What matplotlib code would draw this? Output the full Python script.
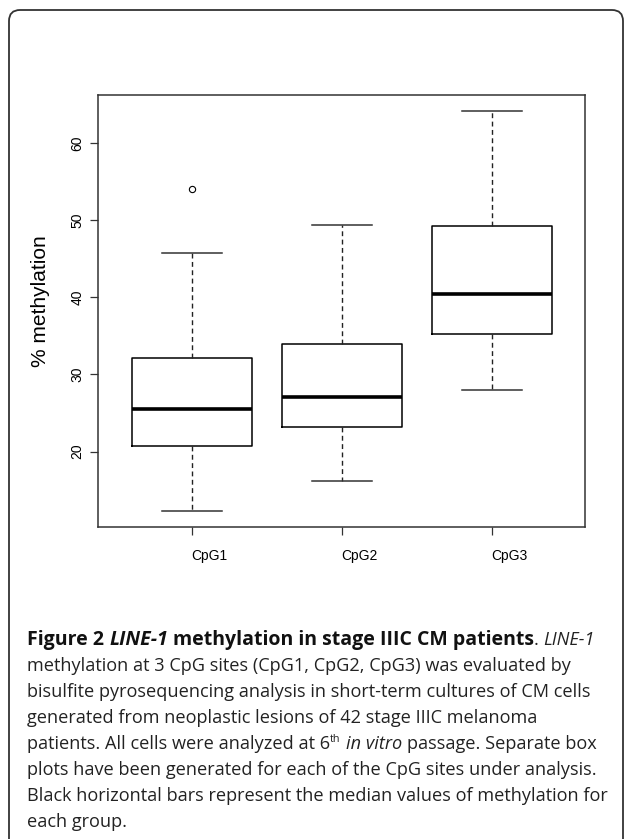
import matplotlib
matplotlib.use('Agg')
import matplotlib.pyplot as plt
from matplotlib.patches import FancyBboxPatch
from matplotlib.transforms import IdentityTransform

# box plot values (% methylation)
sites = ['CpG1', 'CpG2', 'CpG3']
whisker_low = [12.3, 16.2, 28.0]
q1 = [20.7, 23.25, 35.2]
medians = [25.5, 27.1, 40.4]
q3 = [32.2, 33.9, 49.3]
whisker_high = [45.8, 49.4, 64.2]
outliers = [[54.0], [], []]
yticks = [20, 30, 40, 50, 60]

W, H = 627, 839
fig = plt.figure(figsize=(W / 100, H / 100), dpi=100)

# outer rounded frame (pixel coords)
frame = FancyBboxPatch((9, -30), 614, H - 10 + 30,
                       boxstyle='round,pad=0,rounding_size=11',
                       transform=IdentityTransform(), fill=False,
                       lw=1.3, ec='#333333')
fig.patches.append(frame)

ax = fig.add_axes([98 / W, 1 - 527 / H, (584.7 - 98) / W, (527 - 94.7) / H])

stats = []
for i in range(len(sites)):
    stats.append(dict(label=sites[i], whislo=whisker_low[i], q1=q1[i],
                      med=medians[i], q3=q3[i], whishi=whisker_high[i],
                      fliers=outliers[i]))

ax.bxp(stats, positions=[1, 2, 3], widths=0.8, capwidths=0.4, showfliers=True,
       boxprops=dict(color='black', linewidth=1.1),
       medianprops=dict(color='black', linewidth=2.6, solid_capstyle='butt'),
       whiskerprops=dict(color='#222222', linewidth=1.0, linestyle=(0, (3.5, 2.5))),
       capprops=dict(color='#333333', linewidth=1.1),
       flierprops=dict(marker='o', markerfacecolor='none', markeredgecolor='black',
                       markersize=4.5, markeredgewidth=0.8))

lo = min(whisker_low)
hi = max(whisker_high)
pad = 0.04 * (hi - lo)
ax.set_ylim(lo - pad, hi + pad)
ax.set_xlim(0.375, 3.62)

ax.set_yticks(yticks)
ax.set_yticklabels([str(v) for v in yticks], rotation=90, va='center',
                   fontsize=10, family='Liberation Sans')
ax.set_xticks([1, 2, 3])
ax.set_xticklabels(sites, ha='left', fontsize=10, family='Liberation Sans')
ax.tick_params(axis='both', length=5.8, width=0.9, color='#333333')
ax.tick_params(axis='x', pad=10)
ax.tick_params(axis='y', pad=4)
for s in ax.spines.values():
    s.set_color('#333333')
    s.set_linewidth(1.1)

fig.text(40 / W, 1 - 301 / H, '% methylation', rotation=90, ha='center', va='center',
         fontsize=15, family='Liberation Sans')

# caption
r = fig.canvas.get_renderer()
cap_size = 13.1
title_size = 14.0
styles = {
    'r': dict(family='Open Sans', fontsize=cap_size, color='#222222'),
    'b': dict(family='Open Sans', fontsize=title_size, weight='bold', color='#111111'),
    'bi': dict(family='Open Sans', fontsize=title_size, weight='bold', style='italic', color='#111111'),
    'i': dict(family='Open Sans', fontsize=cap_size, style='italic', color='#222222'),
    'sup': dict(family='Open Sans', fontsize=cap_size * 0.6, color='#222222'),
}


def text_width(s, props):
    if not s:
        return 0.0
    t = fig.text(0, 0, s, **props)
    w = t.get_window_extent(renderer=r).width
    t.remove()
    return w


def write_line(y, parts, x=27):
    for txt, st in parts:
        props = styles[st]
        sw = text_width('n n', props) - text_width('nn', props)
        core = txt.strip(' ')
        lead = len(txt) - len(txt.lstrip(' '))
        trail = len(txt) - len(txt.rstrip(' '))
        x += lead * sw
        dy = -7 if st == 'sup' else 0
        if core:
            fig.text(x / W, 1 - (y + 6 + dy) / H, core, ha='left', va='baseline', **props)
        x += text_width(core, props) + trail * sw + (1 if st == 'sup' else 0)


caption = [
    [('Figure 2 ', 'b'), ('LINE-1', 'bi'), (' methylation in stage IIIC CM patients', 'b'),
     ('. ', 'r'), ('LINE-1', 'i')],
    [('methylation at 3 CpG sites (CpG1, CpG2, CpG3) was evaluated by', 'r')],
    [('bisulfite pyrosequencing analysis in short-term cultures of CM cells', 'r')],
    [('generated from neoplastic lesions of 42 stage IIIC melanoma', 'r')],
    [('patients. All cells were analyzed at 6', 'r'), ('th', 'sup'),
     (' in vitro', 'i'), (' passage. Separate box', 'r')],
    [('plots have been generated for each of the CpG sites under analysis.', 'r')],
    [('Black horizontal bars represent the median values of methylation for', 'r')],
    [('each group.', 'r')],
]
for k, parts in enumerate(caption):
    write_line(639 + 26 * k, parts)

fig.savefig('out.png', dpi=100)
